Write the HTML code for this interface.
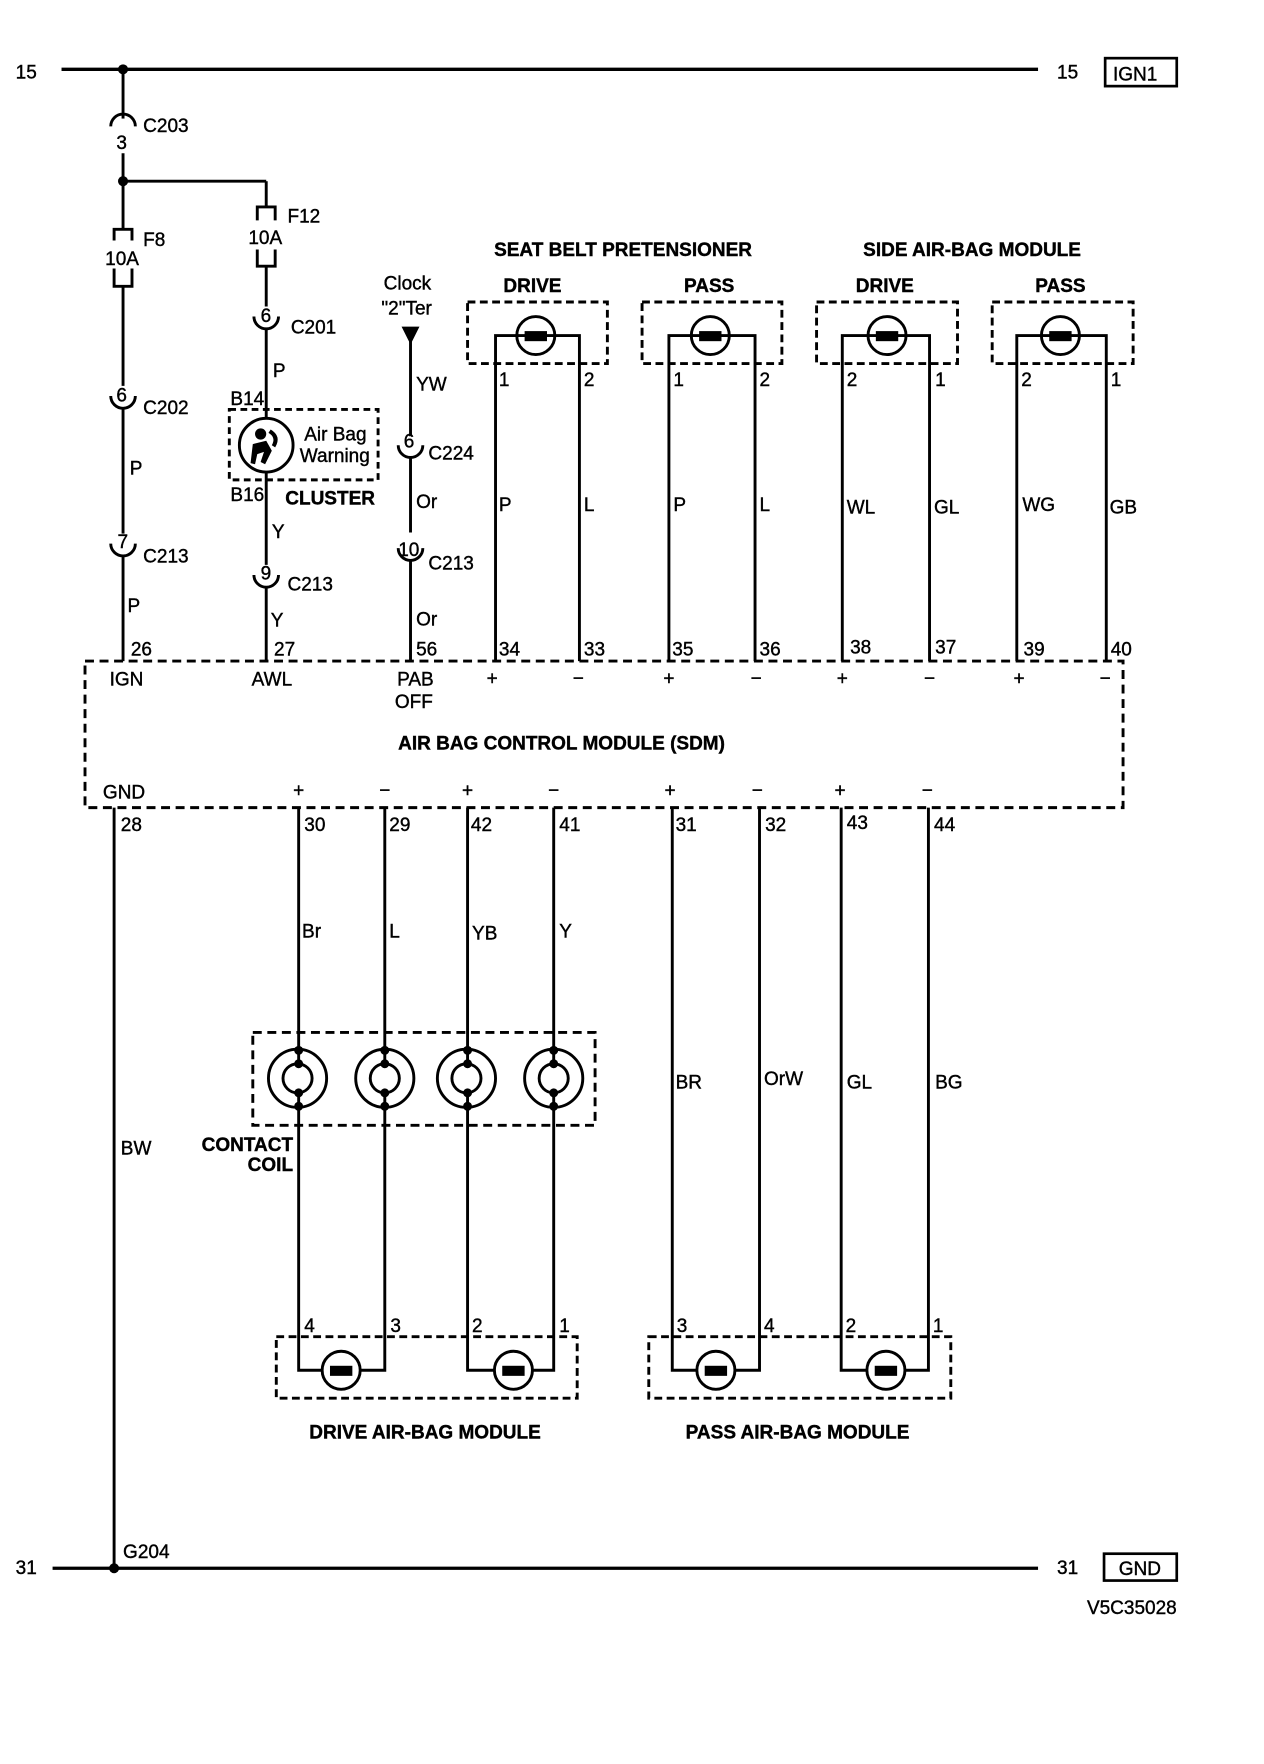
<!DOCTYPE html>
<html><head><meta charset="utf-8"><style>
html,body{margin:0;padding:0;background:#fff}
svg{display:block}
text{font-family:"Liberation Sans",sans-serif;font-size:17px;fill:#000;stroke:#000;stroke-width:0.35}
.b{font-weight:bold}
</style></head><body>
<svg width="1264" height="1764" viewBox="0 0 1130 1577" xmlns="http://www.w3.org/2000/svg">
<g stroke="#000" fill="none" stroke-width="2.6">
<line x1="55" y1="62" x2="928" y2="62" stroke-width="3"/>
<rect x="988" y="52" width="64" height="25" stroke-width="2.4"/>
<line x1="110" y1="62" x2="110" y2="106"/>
<path d="M99,113 A11,11 0 0 1 121,113"/>
<line x1="110" y1="137" x2="110" y2="205"/>
<line x1="110" y1="162" x2="238" y2="162"/>
<path d="M102,215 V205 H118 V215"/>
<path d="M102,240 V256 H118 V240"/>
<line x1="110" y1="256" x2="110" y2="345"/>
<path d="M99,354 A11,11 0 0 0 121,354"/>
<line x1="110" y1="365" x2="110" y2="477"/>
<path d="M99,486 A11,11 0 0 0 121,486"/>
<line x1="110" y1="497" x2="110" y2="591"/>
<line x1="238" y1="162" x2="238" y2="185"/>
<path d="M230,197 V185 H246 V197"/>
<path d="M230,223 V238 H246 V223"/>
<line x1="238" y1="238" x2="238" y2="274"/>
<path d="M227,283 A11,11 0 0 0 249,283"/>
<line x1="238" y1="294" x2="238" y2="374"/>
<rect x="205" y="366" width="133" height="63" stroke-dasharray="6,4"/>
<circle cx="238" cy="398" r="24"/>
<line x1="238" y1="422" x2="238" y2="505"/>
<path d="M227,514 A11,11 0 0 0 249,514"/>
<line x1="238" y1="525" x2="238" y2="591"/>
<line x1="367" y1="300" x2="367" y2="390"/>
<path d="M356,398 A11,11 0 0 0 378,398"/>
<line x1="367" y1="409" x2="367" y2="476"/>
<path d="M356,490 A11,11 0 0 0 378,490"/>
<line x1="367" y1="501" x2="367" y2="591"/>
<g stroke-dasharray="7,4">
<rect x="418" y="270" width="125" height="55"/>
<rect x="574" y="270" width="125" height="55"/>
<rect x="730" y="270" width="126" height="55"/>
<rect x="887" y="270" width="126" height="55"/>
</g>
<path d="M443,591 V300 H518 V591"/>
<path d="M598,591 V300 H675 V591"/>
<path d="M753,591 V300 H831 V591"/>
<path d="M909,591 V300 H989 V591"/>
<circle cx="479" cy="300" r="17"/>
<circle cx="635" cy="300" r="17"/>
<circle cx="793" cy="300" r="17"/>
<circle cx="948" cy="300" r="17"/>
<rect x="76" y="591" width="928" height="131" stroke-dasharray="8,5"/>
<line x1="102" y1="722" x2="102" y2="1402"/>
<path d="M267,722 V1225 H344 V722"/>
<path d="M418,722 V1225 H495 V722"/>
<path d="M601,722 V1225 H679 V722"/>
<path d="M752,722 V1225 H830 V722"/>
<rect x="226" y="923" width="306" height="83" stroke-dasharray="8,5"/>
<g fill="#fff">
<circle cx="266" cy="964" r="26"/><circle cx="266" cy="964" r="13"/>
<circle cx="344" cy="964" r="26"/><circle cx="344" cy="964" r="13"/>
<circle cx="417" cy="964" r="26"/><circle cx="417" cy="964" r="13"/>
<circle cx="495" cy="964" r="26"/><circle cx="495" cy="964" r="13"/>
</g>
<path d="M267,938 V951 M267,977 V990 M344,938 V951 M344,977 V990 M418,938 V951 M418,977 V990 M495,938 V951 M495,977 V990"/>
<g stroke-dasharray="7,4">
<rect x="247" y="1195" width="269" height="55"/>
<rect x="580" y="1195" width="270" height="55"/>
</g>
<circle cx="305" cy="1225" r="17" fill="#fff"/>
<circle cx="459" cy="1225" r="17" fill="#fff"/>
<circle cx="640" cy="1225" r="17" fill="#fff"/>
<circle cx="792" cy="1225" r="17" fill="#fff"/>
<line x1="47" y1="1402" x2="928" y2="1402" stroke-width="3"/>
<rect x="987" y="1389" width="65" height="24" stroke-width="2.4"/>
</g>
<g fill="#000">
<circle cx="110" cy="62" r="4.5"/><circle cx="110" cy="162" r="4.5"/><circle cx="102" cy="1402" r="4.5"/>
<path d="M359,292 H375 L367,308 Z"/>
<rect x="469" y="296" width="20" height="9"/><rect x="625" y="296" width="20" height="9"/>
<rect x="783" y="296" width="20" height="9"/><rect x="938" y="296" width="20" height="9"/>
<rect x="295" y="1221" width="20" height="9"/><rect x="449" y="1221" width="20" height="9"/>
<rect x="630" y="1221" width="20" height="9"/><rect x="782" y="1221" width="20" height="9"/>
<g>
<circle cx="267" cy="939" r="4"/><circle cx="267" cy="951" r="4"/><circle cx="267" cy="977" r="4"/><circle cx="267" cy="989" r="4"/>
<circle cx="344" cy="939" r="4"/><circle cx="344" cy="951" r="4"/><circle cx="344" cy="977" r="4"/><circle cx="344" cy="989" r="4"/>
<circle cx="418" cy="939" r="4"/><circle cx="418" cy="951" r="4"/><circle cx="418" cy="977" r="4"/><circle cx="418" cy="989" r="4"/>
<circle cx="495" cy="939" r="4"/><circle cx="495" cy="951" r="4"/><circle cx="495" cy="977" r="4"/><circle cx="495" cy="989" r="4"/>
</g>
<circle cx="233" cy="388" r="5"/>
<path d="M226,397 L238,394 L243,403 L237,415 L233,413 L236,404 L230,406 L228,415 L224,414 Z"/>
<path d="M242,384 Q252,390 246,400 L243,398 Q247,391 240,387 Z"/>
</g>
<g>
<text x="14" y="70">15</text>
<text x="945" y="70">15</text>
<text x="995" y="72">IGN1</text>
<text x="128" y="118">C203</text>
<text x="104" y="133">3</text>
<text x="128" y="220">F8</text>
<text x="94" y="237">10A</text>
<text x="257" y="199">F12</text>
<text x="222" y="218">10A</text>
<text x="233" y="288" font-size="16">6</text>
<text x="260" y="298">C201</text>
<text x="104" y="359" font-size="16">6</text>
<text x="128" y="370">C202</text>
<text x="116" y="424">P</text>
<text x="105" y="490" font-size="16">7</text>
<text x="128" y="503">C213</text>
<text x="114" y="547">P</text>
<text x="117" y="586" font-size="16">26</text>
<text x="244" y="337">P</text>
<text x="206" y="362" font-size="16">B14</text>
<text x="272" y="394" font-size="16">Air Bag</text>
<text x="268" y="413" font-size="16">Warning</text>
<text x="206" y="448" font-size="16">B16</text>
<text x="255" y="451" class="b" font-size="16">CLUSTER</text>
<text x="243" y="481">Y</text>
<text x="233" y="518" font-size="16">9</text>
<text x="257" y="528">C213</text>
<text x="242" y="560">Y</text>
<text x="245" y="586" font-size="16">27</text>
<text x="343" y="259">Clock</text>
<text x="341" y="281">"2"Ter</text>
<text x="372" y="349">YW</text>
<text x="361" y="400" font-size="16">6</text>
<text x="383" y="411">C224</text>
<text x="372" y="454">Or</text>
<text x="356" y="497" font-size="16">10</text>
<text x="383" y="509">C213</text>
<text x="372" y="559">Or</text>
<text x="372" y="586" font-size="16">56</text>
<text x="557" y="229" class="b" text-anchor="middle" font-size="18">SEAT BELT PRETENSIONER</text>
<text x="869" y="229" class="b" text-anchor="middle" font-size="18">SIDE AIR-BAG MODULE</text>
<text x="476" y="261" class="b" text-anchor="middle" font-size="18">DRIVE</text>
<text x="634" y="261" class="b" text-anchor="middle" font-size="18">PASS</text>
<text x="791" y="261" class="b" text-anchor="middle" font-size="18">DRIVE</text>
<text x="948" y="261" class="b" text-anchor="middle" font-size="18">PASS</text>
<text x="446" y="345" font-size="16">1</text><text x="522" y="345" font-size="16">2</text>
<text x="602" y="345" font-size="16">1</text><text x="679" y="345" font-size="16">2</text>
<text x="757" y="345" font-size="16">2</text><text x="836" y="345" font-size="16">1</text>
<text x="913" y="345" font-size="16">2</text><text x="993" y="345" font-size="16">1</text>
<text x="446" y="457">P</text><text x="522" y="457">L</text>
<text x="602" y="457">P</text><text x="679" y="457">L</text>
<text x="757" y="459">WL</text><text x="835" y="459">GL</text>
<text x="914" y="457">WG</text><text x="992" y="459">GB</text>
<text x="446" y="586" font-size="16">34</text><text x="522" y="586" font-size="16">33</text>
<text x="601" y="586" font-size="16">35</text><text x="679" y="586" font-size="16">36</text>
<text x="760" y="584" font-size="16">38</text><text x="836" y="584" font-size="16">37</text>
<text x="915" y="586" font-size="16">39</text><text x="993" y="586" font-size="16">40</text>
<text x="98" y="613" font-size="16">IGN</text>
<text x="225" y="613" font-size="16">AWL</text>
<text x="355" y="613" font-size="16">PAB</text>
<text x="353" y="633" font-size="16">OFF</text>
<text x="440" y="612" text-anchor="middle" font-size="20">+</text><text x="517" y="612" text-anchor="middle" font-size="20">−</text>
<text x="598" y="612" text-anchor="middle" font-size="20">+</text><text x="676" y="612" text-anchor="middle" font-size="20">−</text>
<text x="753" y="612" text-anchor="middle" font-size="20">+</text><text x="831" y="612" text-anchor="middle" font-size="20">−</text>
<text x="911" y="612" text-anchor="middle" font-size="20">+</text><text x="988" y="612" text-anchor="middle" font-size="20">−</text>
<text x="502" y="670" class="b" text-anchor="middle" font-size="21">AIR BAG CONTROL MODULE (SDM)</text>
<text x="92" y="714" font-size="16">GND</text>
<text x="267" y="712" text-anchor="middle" font-size="20">+</text><text x="344" y="712" text-anchor="middle" font-size="20">−</text>
<text x="418" y="712" text-anchor="middle" font-size="20">+</text><text x="495" y="712" text-anchor="middle" font-size="20">−</text>
<text x="599" y="712" text-anchor="middle" font-size="20">+</text><text x="677" y="712" text-anchor="middle" font-size="20">−</text>
<text x="751" y="712" text-anchor="middle" font-size="20">+</text><text x="829" y="712" text-anchor="middle" font-size="20">−</text>
<text x="108" y="743" font-size="16">28</text>
<text x="272" y="743" font-size="16">30</text><text x="348" y="743" font-size="16">29</text>
<text x="421" y="743" font-size="16">42</text><text x="500" y="743" font-size="16">41</text>
<text x="604" y="743" font-size="16">31</text><text x="684" y="743" font-size="16">32</text>
<text x="757" y="741" font-size="16">43</text><text x="835" y="743" font-size="16">44</text>
<text x="270" y="838">Br</text><text x="348" y="838">L</text>
<text x="422" y="840">YB</text><text x="500" y="838">Y</text>
<text x="604" y="973" font-size="16">BR</text><text x="683" y="970" font-size="16">OrW</text>
<text x="757" y="973">GL</text><text x="836" y="973">BG</text>
<text x="108" y="1032">BW</text>
<text x="262" y="1029" class="b" text-anchor="end" font-size="15">CONTACT</text>
<text x="262" y="1047" class="b" text-anchor="end" font-size="15">COIL</text>
<text x="272" y="1191" font-size="16">4</text><text x="349" y="1191" font-size="16">3</text>
<text x="422" y="1191" font-size="16">2</text><text x="500" y="1191" font-size="16">1</text>
<text x="605" y="1191" font-size="16">3</text><text x="683" y="1191" font-size="16">4</text>
<text x="756" y="1191" font-size="16">2</text><text x="834" y="1191" font-size="16">1</text>
<text x="380" y="1286" class="b" text-anchor="middle" font-size="17">DRIVE AIR-BAG MODULE</text>
<text x="713" y="1286" class="b" text-anchor="middle" font-size="17">PASS AIR-BAG MODULE</text>
<text x="110" y="1393" font-size="16">G204</text>
<text x="14" y="1407">31</text>
<text x="945" y="1407">31</text>
<text x="1019" y="1408" text-anchor="middle">GND</text>
<text x="1052" y="1443" text-anchor="end">V5C35028</text>
</g>
</svg>
</body></html>
